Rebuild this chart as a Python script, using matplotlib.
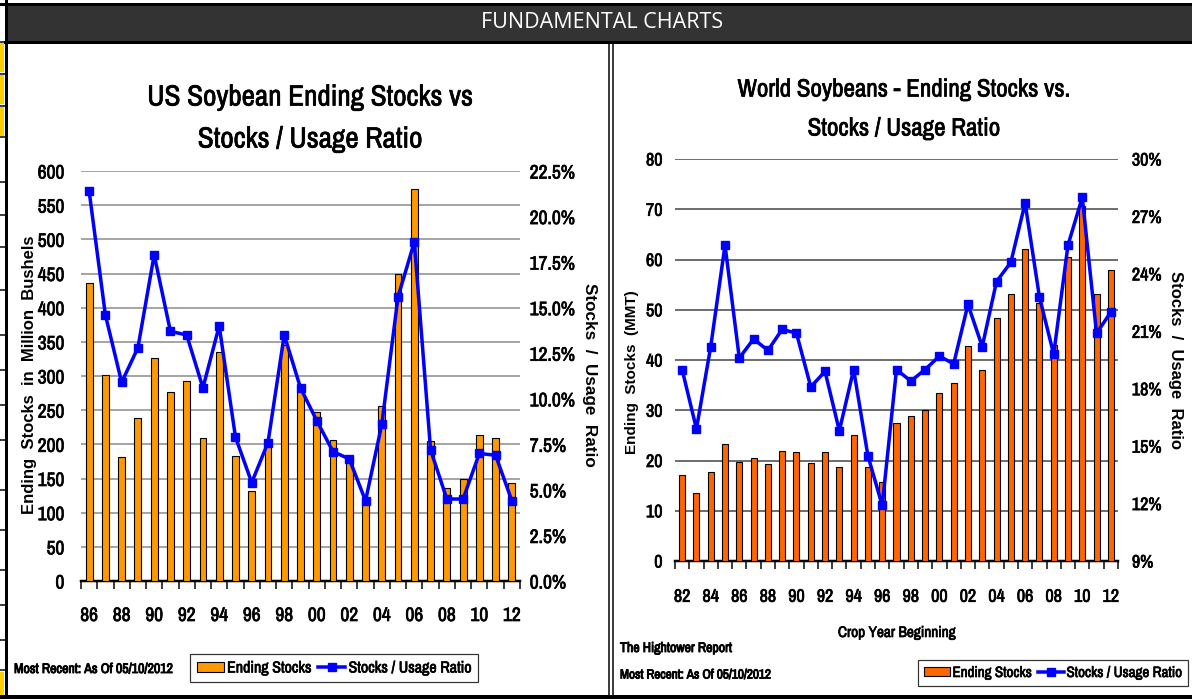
import matplotlib
matplotlib.use("Agg")
import matplotlib.pyplot as plt
from matplotlib import font_manager
from matplotlib import patheffects as pe
from matplotlib.lines import Line2D
from matplotlib.patches import Rectangle, Patch
from matplotlib.ticker import FuncFormatter, MultipleLocator
import numpy as np

# ---------------- data ----------------
us_years = ['86', '87', '88', '89', '90', '91', '92', '93', '94', '95', '96', '97', '98', '99',
            '00', '01', '02', '03', '04', '05', '06', '07', '08', '09', '10', '11', '12']
us_stocks = [436, 302, 181, 239, 327, 277, 292, 209, 335, 183, 132, 197, 346, 276,
             247, 206, 180, 115, 256, 449, 574, 205, 136, 150, 213, 209, 144]
us_ratio = [21.4, 14.6, 10.9, 12.8, 17.9, 13.7, 13.5, 10.6, 14.0, 7.9, 5.4, 7.6, 13.5, 10.6,
            8.8, 7.1, 6.7, 4.4, 8.6, 15.6, 18.6, 7.2, 4.5, 4.5, 7.0, 6.9, 4.4]

world_years = ['82', '83', '84', '85', '86', '87', '88', '89', '90', '91', '92', '93', '94', '95', '96',
               '97', '98', '99', '00', '01', '02', '03', '04', '05', '06', '07', '08', '09', '10', '11', '12']
world_stocks = [17.1, 13.5, 17.7, 23.3, 19.8, 20.4, 19.3, 21.9, 21.6, 19.6, 21.6, 18.8, 25.0, 18.8, 15.7,
                27.5, 28.9, 30.1, 33.5, 35.5, 42.8, 38.0, 48.3, 53.1, 62.1, 51.3, 43.0, 60.5, 70.6, 53.1, 58.0]
world_ratio = [19.0, 15.9, 20.2, 25.5, 19.6, 20.6, 20.0, 21.1, 20.9, 18.1, 18.9, 15.8, 19.0, 14.5, 11.9,
               19.0, 18.4, 19.0, 19.7, 19.3, 22.4, 20.2, 23.6, 24.6, 27.7, 22.8, 19.8, 25.5, 28.0, 20.9, 22.0]

# ---------------- fonts ----------------
avail = {f.name for f in font_manager.fontManager.ttflist}
NARROW = next((f for f in ['Archivo Narrow', 'Roboto Condensed', 'Liberation Sans Narrow']
               if f in avail), 'Liberation Sans')
ARIAL = 'Liberation Sans'
HEAD = 'Open Sans' if 'Open Sans' in avail else 'DejaVu Sans'
plt.rcParams['font.family'] = [NARROW, 'DejaVu Sans']

W, H = 1192, 699
fig = plt.figure(figsize=(W / 100, H / 100), dpi=100)
fig.patch.set_facecolor('white')

PX = 0.72  # points per pixel
BOLD = [pe.withStroke(linewidth=0.65, foreground='black')]
SEMI = [pe.withStroke(linewidth=0.5, foreground='black')]


def frac_box(x0, y0, x1, y1):
    return [x0 / W, 1 - y1 / H, (x1 - x0) / W, (y1 - y0) / H]


# ---------------- overlay frame ----------------
ov = fig.add_axes([0, 0, 1, 1], zorder=-5)
ov.set_xlim(0, W)
ov.set_ylim(H, 0)
ov.axis('off')
ov.add_patch(Rectangle((5, 4), W - 5, 37, facecolor='#333333', edgecolor='none'))
ov.plot([0, W], [4, 4], color='black', lw=3 * PX)
ov.plot([5, W], [41.5, 41.5], color='black', lw=3 * PX)
ov.text(602, 22, 'FUNDAMENTAL CHARTS', color='white', fontsize=15.5, family=HEAD,
        ha='center', va='center')
# left spreadsheet column
for (a, b) in [(43, 72), (75, 104), (107, 136), (672, 699)]:
    ov.add_patch(Rectangle((0, a), 4, b - a, facecolor='#FFCC00', edgecolor='none'))
for yy in [42, 73.5, 105.5, 137, 182, 215, 247, 290, 335, 370, 405, 440, 490, 530, 570, 605, 640, 670]:
    ov.plot([0, 5], [yy, yy], color='black', lw=1.5 * PX)
ov.plot([5.5, 5.5], [0, H], color='black', lw=3 * PX)
# separator between panels
ov.plot([609, 609], [42, H], color='black', lw=1.5 * PX)
ov.plot([613, 613], [42, H], color='black', lw=1.5 * PX)
ov.plot([0, W], [697, 697], color='black', lw=4 * PX)

BAR_EDGE = 'black'
LINE_C = '#0000FF'
LW = 3.5 * PX
MS = 8.5 * PX

# ================= left chart =================
axL = fig.add_axes(frac_box(81, 171, 520, 581))
xL = np.arange(len(us_years))
axL.bar(xL, us_stocks, width=0.42, color='#FF9900', edgecolor=BAR_EDGE, linewidth=0.8, zorder=3)
axL.set_xlim(-0.5, len(us_years) - 0.5)
axL.set_ylim(0, 600)
axL.yaxis.set_major_locator(MultipleLocator(50))
axL.grid(axis='y', color='#A6A6A6', lw=2 * PX, zorder=0)
axL.set_axisbelow(True)
for s in ['left', 'right', 'top']:
    axL.spines[s].set_visible(False)
axL.spines['bottom'].set_linewidth(2.5 * PX)
axL.set_xticks(np.arange(-0.5, len(us_years), 1.0))
axL.set_xticklabels([])
axL.set_xticks(xL[::2], minor=True)
axL.set_xticklabels(us_years[::2], minor=True)
axL.tick_params(axis='x', which='major', direction='out', length=6, width=1.5 * PX, color='black')
axL.tick_params(axis='x', which='minor', length=0, pad=18, labelsize=14)
axL.tick_params(axis='y', length=0, labelsize=14, pad=12)

axL2 = axL.twinx()
axL2.plot(xL, us_ratio, color=LINE_C, lw=LW, marker='s', markersize=MS,
          markeredgecolor=LINE_C, zorder=5)
axL2.set_ylim(0, 22.5)
axL2.yaxis.set_major_locator(MultipleLocator(2.5))
axL2.yaxis.set_major_formatter(FuncFormatter(lambda v, p: f'{v:.1f}%'))
axL2.tick_params(axis='y', length=0, labelsize=14, pad=7)
for s in ['left', 'right', 'top', 'bottom']:
    axL2.spines[s].set_visible(False)
for t in axL.get_xticklabels(minor=True) + axL.get_yticklabels() + axL2.get_yticklabels():
    t.set_path_effects(SEMI)

fig.text(310 / W, 1 - 97 / H, 'US Soybean Ending Stocks vs', ha='center', va='center', fontsize=21,
         path_effects=SEMI)
fig.text(310 / W, 1 - 139 / H, 'Stocks / Usage Ratio', ha='center', va='center', fontsize=21,
         path_effects=SEMI)
fig.text(30 / W, 1 - 375 / H, 'Ending  Stocks  in  Million  Bushels', rotation=90, ha='center',
         va='center', fontsize=12, fontweight='bold', family=ARIAL)
fig.text(590 / W, 1 - 375 / H, 'Stocks  /  Usage  Ratio', rotation=-90, ha='center',
         va='center', fontsize=12.3, fontweight='bold', family=ARIAL)
fig.text(14 / W, 1 - 669 / H, 'Most Recent: As Of 05/10/2012', ha='left', va='center',
         fontsize=10, path_effects=BOLD)

# ================= right chart =================
axR = fig.add_axes(frac_box(675, 159, 1118, 561))
xR = np.arange(len(world_years))
axR.bar(xR, world_stocks, width=0.42, color='#FF6600', edgecolor=BAR_EDGE, linewidth=0.8, zorder=3)
axR.set_xlim(-0.5, len(world_years) - 0.5)
axR.set_ylim(0, 80)
axR.yaxis.set_major_locator(MultipleLocator(10))
axR.grid(axis='y', color='#4D4D4D', lw=1.6 * PX, zorder=0)
axR.set_axisbelow(True)
for s in ['left', 'right', 'top']:
    axR.spines[s].set_visible(False)
axR.spines['bottom'].set_linewidth(2.5 * PX)
axR.set_xticks(np.arange(-0.5, len(world_years), 1.0))
axR.set_xticklabels([])
axR.set_xticks(xR[::2], minor=True)
axR.set_xticklabels(world_years[::2], minor=True)
axR.tick_params(axis='x', which='major', direction='out', length=6, width=1.5 * PX, color='black')
axR.tick_params(axis='x', which='minor', length=0, pad=20, labelsize=13)
axR.tick_params(axis='y', length=0, labelsize=13, pad=9)

axR2 = axR.twinx()
axR2.plot(xR, world_ratio, color=LINE_C, lw=LW, marker='s', markersize=MS,
          markeredgecolor=LINE_C, zorder=5)
axR2.set_ylim(9, 30)
axR2.yaxis.set_major_locator(MultipleLocator(3))
axR2.yaxis.set_major_formatter(FuncFormatter(lambda v, p: f'{v:.0f}%'))
axR2.tick_params(axis='y', length=0, labelsize=13, pad=10)
for s in ['left', 'right', 'top', 'bottom']:
    axR2.spines[s].set_visible(False)
for t in axR.get_xticklabels(minor=True) + axR.get_yticklabels() + axR2.get_yticklabels():
    t.set_path_effects(SEMI)

fig.text(904 / W, 1 - 89 / H, 'World Soybeans - Ending Stocks vs.', ha='center', va='center', fontsize=18,
         path_effects=SEMI)
fig.text(904 / W, 1 - 128 / H, 'Stocks / Usage Ratio', ha='center', va='center', fontsize=18,
         path_effects=SEMI)
fig.text(632 / W, 1 - 372 / H, 'Ending  Stocks  (MMT)', rotation=90, ha='center', va='center',
         fontsize=11, fontweight='bold', family=ARIAL)
fig.text(1175 / W, 1 - 360 / H, 'Stocks  /  Usage  Ratio', rotation=-90, ha='center', va='center',
         fontsize=12, fontweight='bold', family=ARIAL)
fig.text(897 / W, 1 - 633 / H, 'Crop Year Beginning', ha='center', va='center', fontsize=11,
         path_effects=SEMI)
fig.text(620 / W, 1 - 648 / H, 'The Hightower Report', ha='left', va='center', fontsize=10,
         path_effects=BOLD)
fig.text(620 / W, 1 - 675 / H, 'Most Recent: As Of 05/10/2012', ha='left', va='center',
         fontsize=9.5, path_effects=BOLD)


# ---------------- legends ----------------
def make_legend(color, cx, cy, fs):
    handles = [Patch(facecolor=color, edgecolor='black', linewidth=0.8),
               Line2D([0], [0], color=LINE_C, lw=LW, marker='s', markersize=7.5 * PX)]
    leg = fig.legend(handles, ['Ending Stocks', 'Stocks / Usage Ratio'], loc='center',
                     bbox_to_anchor=(cx, cy), ncol=2, frameon=True, fancybox=False,
                     fontsize=fs, handlelength=1.7, handleheight=0.6, handletextpad=0.2,
                     columnspacing=0.4, borderpad=0.4, borderaxespad=0)
    leg.get_frame().set_edgecolor('black')
    leg.get_frame().set_linewidth(1.2 * PX)
    for t in leg.get_texts():
        t.set_path_effects(SEMI)
    return leg


make_legend('#FF9900', 334 / W, 1 - 668 / H, 11.5)
make_legend('#FF6600', 1053 / W, 1 - 673 / H, 10.8)

fig.savefig('out.png', dpi=100, facecolor='white')
